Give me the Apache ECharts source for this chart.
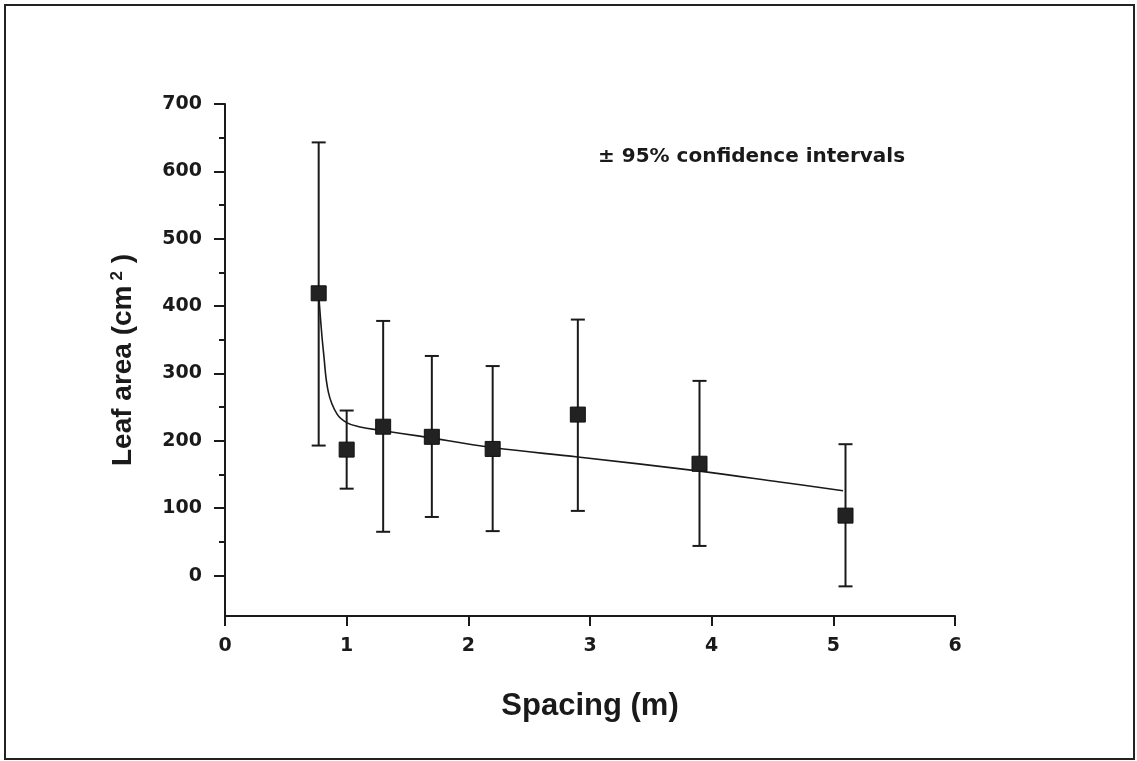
<!DOCTYPE html>
<html>
<head>
<meta charset="utf-8">
<script src="https://cdn.jsdelivr.net/npm/echarts@6/dist/echarts.min.js"></script>
<style>
html,body{margin:0;padding:0;background:#fff;}
#c{width:1137px;height:761px;}
</style>
</head>
<body>
<div id="c"></div>
<script>
// Data
const spacing = [0.77, 1.0, 1.3, 1.7, 2.2, 2.9, 3.9, 5.1];
const leafArea = [419, 187, 221, 206, 188, 239, 166, 89];
const ciUpper = [643, 245, 378, 326, 311, 380, 289, 195];
const ciLower = [193, 129, 65, 87, 66, 96, 44, -16];
const fitX = [0.77, 0.79, 0.81, 0.85, 0.92, 1.0, 1.1, 1.3, 1.6, 2.2, 2.9, 3.9, 4.56, 5.08];
const fitY = [418, 370, 331, 272, 240, 227, 221, 215, 207, 190, 176, 155, 139, 126];
const yTickValues = [0, 100, 200, 300, 400, 500, 600, 700];
const yMinorValues = [50, 150, 250, 350, 450, 550, 650];

const FONT = '"Liberation Sans", Arial, sans-serif';
const TICKFONT = '"DejaVu Sans", sans-serif';
const INK = '#1a1a1a';

const chart = echarts.init(document.getElementById('c'));
chart.setOption({
  backgroundColor: '#fff',
  animation: false,
  grid: {left: 225, right: 182, top: 104, bottom: 145, containLabel: false},
  xAxis: {
    type: 'value', min: 0, max: 6, interval: 1,
    name: 'Spacing (m)', nameLocation: 'middle', nameGap: 75,
    nameTextStyle: {fontFamily: FONT, fontWeight: 'bold', fontSize: 31, color: INK},
    axisLine: {show: true, onZero: false, lineStyle: {color: INK, width: 2}},
    axisTick: {show: true, length: 10, lineStyle: {color: INK, width: 2}},
    axisLabel: {fontFamily: TICKFONT, fontWeight: 'bold', fontSize: 19, color: INK, margin: 21},
    splitLine: {show: false}
  },
  yAxis: [{
    type: 'value', min: -60, max: 700,
    name: '{a|Leaf area (cm}{s|2}{a| )}', nameLocation: 'middle', nameGap: 88,
    nameTextStyle: {
      rich: {
        a: {fontFamily: FONT, fontWeight: 'bold', fontSize: 28, color: INK, verticalAlign: 'bottom'},
        s: {fontFamily: FONT, fontWeight: 'bold', fontSize: 17, color: INK, verticalAlign: 'top', padding: [0, 0, 0, 5]}
      }
    },
    axisLine: {show: true, onZero: false, lineStyle: {color: INK, width: 2}},
    axisTick: {show: true, length: 11, customValues: yTickValues, lineStyle: {color: INK, width: 2}},
    axisLabel: {fontFamily: TICKFONT, fontWeight: 'bold', fontSize: 19, color: INK, margin: 23, customValues: yTickValues},
    splitLine: {show: false}
  }, {
    type: 'value', min: -60, max: 700, position: 'left',
    axisLine: {show: false, onZero: false},
    axisTick: {show: true, length: 6, customValues: yMinorValues, lineStyle: {color: INK, width: 2}},
    axisLabel: {show: false},
    splitLine: {show: false}
  }],
  graphic: [
    {type: 'rect', shape: {x: 5, y: 5, width: 1129, height: 754}, style: {fill: 'none', stroke: '#222', lineWidth: 2}, silent: true},
    {type: 'text', left: 598, top: 147, style: {text: '± 95% confidence intervals', font: 'bold 20px ' + TICKFONT, fill: INK}}
  ],
  series: [
    {
      type: 'custom',
      renderItem: function (params, api) {
        const x = api.value(0);
        const hi = api.coord([x, api.value(1)]);
        const lo = api.coord([x, api.value(2)]);
        const cw = 7;
        return {
          type: 'group',
          children: [
            {type: 'line', shape: {x1: hi[0], y1: hi[1], x2: lo[0], y2: lo[1]}, style: {stroke: INK, lineWidth: 2}},
            {type: 'line', shape: {x1: hi[0] - cw, y1: hi[1], x2: hi[0] + cw, y2: hi[1]}, style: {stroke: INK, lineWidth: 2}},
            {type: 'line', shape: {x1: lo[0] - cw, y1: lo[1], x2: lo[0] + cw, y2: lo[1]}, style: {stroke: INK, lineWidth: 2}}
          ]
        };
      },
      data: spacing.map((x, i) => [x, ciUpper[i], ciLower[i]]),
      z: 2
    },
    {
      type: 'line', smooth: 0.4, showSymbol: false,
      data: fitX.map((x, i) => [x, fitY[i]]),
      lineStyle: {color: INK, width: 1.6},
      z: 3
    },
    {
      type: 'scatter', symbol: 'rect', symbolSize: 15,
      data: spacing.map((x, i) => [x, leafArea[i]]),
      itemStyle: {color: '#222', borderColor: '#111', borderWidth: 1, opacity: 1},
      z: 4
    }
  ]
});
</script>
</body>
</html>
